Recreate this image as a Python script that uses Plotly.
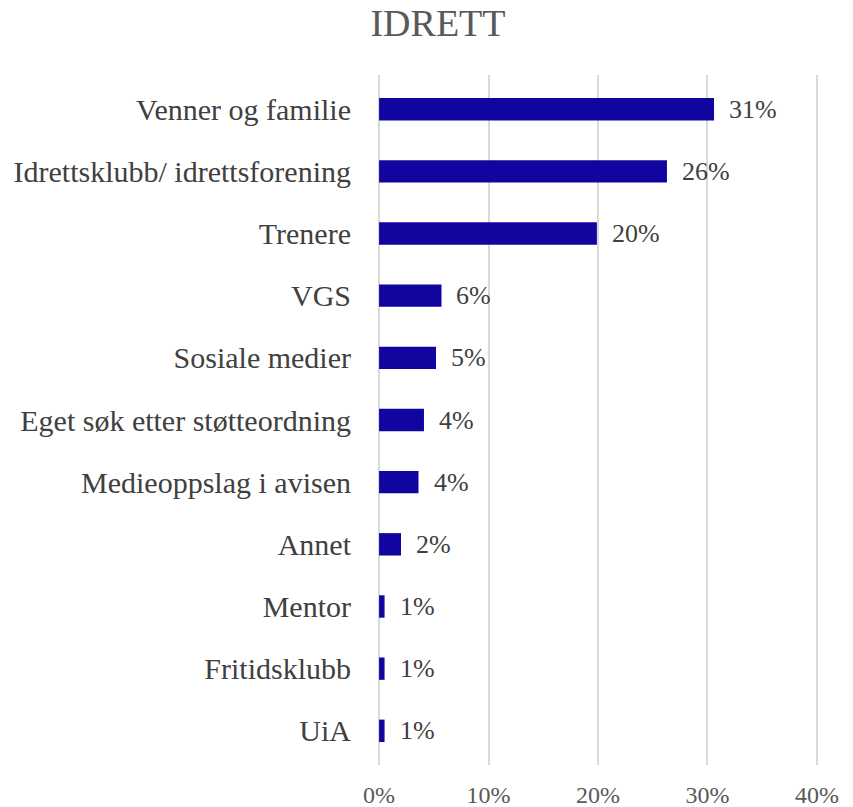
import plotly.graph_objects as go

categories = ["Venner og familie", "Idrettsklubb/ idrettsforening", "Trenere", "VGS",
              "Sosiale medier", "Eget søk etter støtteordning", "Medieoppslag i avisen",
              "Annet", "Mentor", "Fritidsklubb", "UiA"]
values = [30.6, 26.3, 19.9, 5.7, 5.2, 4.1, 3.6, 2.0, 0.5, 0.5, 0.5]
value_labels = ["31%", "26%", "20%", "6%", "5%", "4%", "4%", "2%", "1%", "1%", "1%"]
x_ticks = [0, 10, 20, 30, 40]
x_tick_labels = ["0%", "10%", "20%", "30%", "40%"]

font_family = "Liberation Serif, Times New Roman, serif"

fig = go.Figure()
fig.add_trace(go.Bar(
    x=values, y=categories, orientation="h",
    marker=dict(color="#10069F", line=dict(width=0)),
    width=0.36,
    hoverinfo="skip",
))

for c, v, t in zip(categories, values, value_labels):
    fig.add_annotation(x=v, y=c, text=t, showarrow=False, xanchor="left",
                       xshift=13, font=dict(family=font_family, size=26, color="#404040"))

fig.update_layout(
    width=853, height=807,
    margin=dict(l=378, r=35, t=75, b=42, autoexpand=False),
    plot_bgcolor="white", paper_bgcolor="white",
    title=dict(text="IDRETT", x=0.5135, xanchor="center", y=0.9715, yanchor="middle",
               font=dict(family=font_family, size=38, color="#595959")),
    showlegend=False,
)
fig.update_xaxes(range=[-0.1, 40.1], tickvals=x_ticks, ticktext=x_tick_labels,
                 showgrid=True, gridcolor="#D9D9D9", gridwidth=2,
                 zeroline=False, showline=False, automargin=False,
                 tickfont=dict(family=font_family, size=24, color="#595959"),
                 ticks="", ticklabelstandoff=13)
fig.update_yaxes(autorange=False, range=[10.55, -0.55], showgrid=False, zeroline=False,
                 showline=False, ticks="", ticklabelstandoff=26, automargin=False,
                 tickfont=dict(family=font_family, size=30, color="#404040"))

fig.write_html("out.html", config={"displayModeBar": False},
               post_script="document.body.style.margin='0';document.body.style.overflow='hidden';")
